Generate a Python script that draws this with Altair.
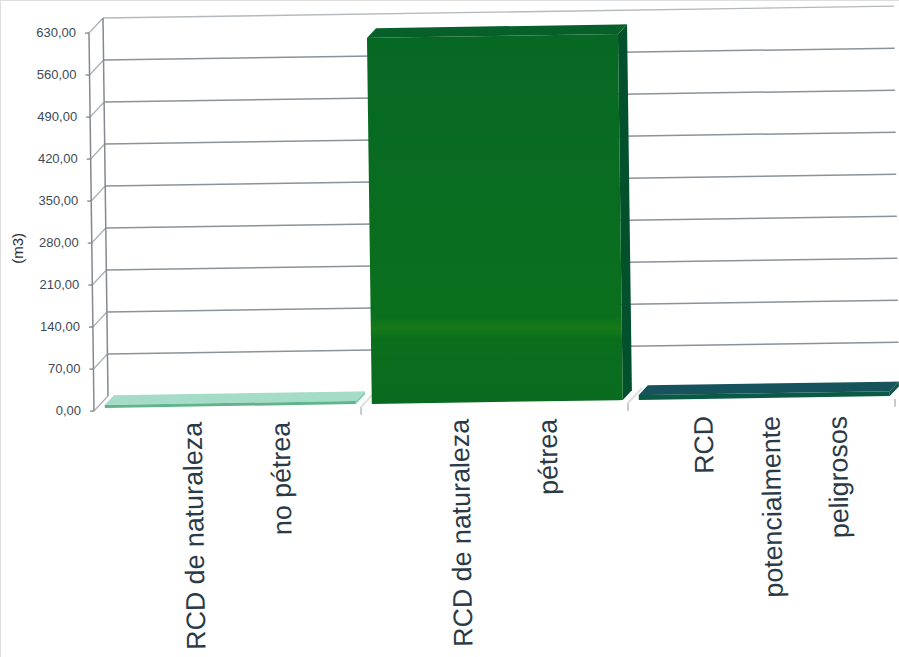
import altair as alt
import pandas as pd

# Chart values
category_lines = [
    ["RCD de naturaleza", "no pétrea"],
    ["RCD de naturaleza", "pétrea"],
    ["RCD", "potencialmente", "peligrosos"],
]
volumes = [5, 610, 8]
value_ticks = [0, 70, 140, 210, 280, 350, 420, 490, 560, 630]
value_title = "(m3)"

W, H = 899, 657
PX_PER_CAT = 267.0
PX_PER_UNIT = 0.6
LEFT_PX, BASE_PX = 94.0, 411.0

# Oblique projection: depth runs up and to the right, and the whole sheet leans slightly
DEPTH_X = 14.0 / PX_PER_CAT
DEPTH_Y = 15.0 / PX_PER_UNIT
TILT_Y = 4.0 / PX_PER_UNIT
TILT_X = 5.0 / 630.0 / PX_PER_CAT


def project(cat, value, depth=0.0):
    return (
        cat + depth * DEPTH_X - value * TILT_X,
        value + depth * DEPTH_Y + cat * TILT_Y,
    )


def segment_layer(segments, color, width):
    rows = []
    for i, (a, b) in enumerate(segments):
        for p in (a, b):
            x, y = project(*p)
            rows.append({"x": x, "y": y, "seg": i})
    return (
        alt.Chart(pd.DataFrame(rows))
        .mark_line(color=color, strokeWidth=width, clip=True)
        .encode(x=X, y=Y, detail="seg:N")
    )


def polygon_rows(vertices):
    # A convex polygon expressed as the band between its lower and upper edges
    pts = [project(*v) for v in vertices]
    rows = []
    for sx in sorted({p[0] for p in pts}):
        ys = []
        for (x0, y0), (x1, y1) in zip(pts, pts[1:] + pts[:1]):
            if min(x0, x1) <= sx <= max(x0, x1):
                if x0 == x1:
                    ys += [y0, y1]
                else:
                    ys.append(y0 + (y1 - y0) * (sx - x0) / (x1 - x0))
        rows.append({"x": sx, "y": min(ys), "y2": max(ys)})
    return rows


def face_layer(vertices, fill):
    return (
        alt.Chart(pd.DataFrame(polygon_rows(vertices)))
        .mark_area(color=fill, orient="vertical", clip=True, interpolate="linear")
        .encode(x=X, y=Y, y2="y2:Q")
    )


X = alt.X(
    "x:Q",
    axis=None,
    scale=alt.Scale(domain=[-LEFT_PX / PX_PER_CAT, (W - LEFT_PX) / PX_PER_CAT], nice=False, zero=False),
)
Y = alt.Y(
    "y:Q",
    axis=None,
    stack=None,
    scale=alt.Scale(domain=[(BASE_PX - H) / PX_PER_UNIT, BASE_PX / PX_PER_UNIT], nice=False, zero=False),
)

top_value = value_ticks[-1]
wall_end = (W - LEFT_PX - 14) / PX_PER_CAT
layers = []

# Back wall gridlines, with the top edge paler than the rest
layers.append(segment_layer([((0, top_value, 1), (wall_end, top_value, 1))], "#b4b9bd", 1.4))
layers.append(segment_layer([((0, v, 1), (wall_end, v, 1)) for v in value_ticks[1:-1]], "#8b9298", 1.5))

# Connectors between the front axis and the back wall
layers.append(segment_layer([((0, v, 0), (0, v, 1)) for v in value_ticks], "#a9aeb3", 1.2))

# Front axis, rear corner and ticks
layers.append(
    segment_layer(
        [((0, 0, 0), (0, top_value, 0)), ((0, 0, 1), (0, top_value, 1))],
        "#85898e",
        1.5,
    )
)
layers.append(segment_layer([((0, v, 0), (-4 / PX_PER_CAT, v, 0)) for v in value_ticks], "#85898e", 1.3))
layers.append(segment_layer([((c, 0, 0), (c, -13, 0)) for c in (1, 2, 3)], "#a9aeb3", 1.3))
layers.append(segment_layer([((c, 0, 0), (c, 0, 1)) for c in (1, 2)], "#d8e4e0", 2))

# Bars as three faces each: side, top and front
GAP = 0.03
D0, D1 = 0.2, 0.85
side_fills = ["#7fcdb0", "#03502c", "#0f5348"]
top_fills = ["#a4dcc8", "#07602a", "#17535c"]
front_fills = [
    "#5fb48c",
    alt.Gradient(
        gradient="linear",
        x1=0,
        x2=0,
        y1=1,
        y2=0,
        stops=[
            alt.GradientStop(offset=0.0, color="#086a1f"),
            alt.GradientStop(offset=0.175, color="#0a6f1d"),
            alt.GradientStop(offset=0.205, color="#167a18"),
            alt.GradientStop(offset=0.235, color="#0a701d"),
            alt.GradientStop(offset=1.0, color="#076825"),
        ],
    ),
    "#0b5a45",
]
for i, v in enumerate(volumes):
    c0, c1 = i + GAP, i + 1 - GAP
    layers.append(face_layer([(c1, 0, D0), (c1, 0, D1), (c1, v, D1), (c1, v, D0)], side_fills[i]))
    layers.append(face_layer([(c0, v, D0), (c1, v, D0), (c1, v, D1), (c0, v, D1)], top_fills[i]))
    layers.append(face_layer([(c0, 0, D0), (c1, 0, D0), (c1, v, D0), (c0, v, D0)], front_fills[i]))

# Value labels to the left of the axis
label_rows = []
for v in value_ticks:
    x, y = project(-13 / PX_PER_CAT, v)
    label_rows.append({"x": x, "y": y, "text": f"{v:.2f}".replace(".", ",")})
layers.append(
    alt.Chart(pd.DataFrame(label_rows))
    .mark_text(align="right", baseline="middle", font="Liberation Sans", fontSize=13, color="#3d4a55")
    .encode(x=X, y=Y, text="text:N")
)

# Vertical axis title
tx, ty = project(-74 / PX_PER_CAT, 273)
layers.append(
    alt.Chart(pd.DataFrame([{"x": tx, "y": ty, "text": value_title}]))
    .mark_text(angle=270, align="center", baseline="middle", font="Liberation Sans", fontSize=15, color="#27323c")
    .encode(x=X, y=Y, text="text:N")
)

# Category labels: each line of a name gets its own rotated column
LINE_STEP = {2: 88 / PX_PER_CAT, 3: 67 / PX_PER_CAT}
LABEL_TOP = -18
LABEL_RISE = 5
cat_rows = []
for i, lines in enumerate(category_lines):
    n = len(lines)
    for j, line in enumerate(lines):
        cx = i + 0.5 + 18 / PX_PER_CAT + (j - (n - 1) / 2) * LINE_STEP[n]
        cat_rows.append({"x": cx, "y": LABEL_TOP + i * LABEL_RISE, "text": line})
layers.append(
    alt.Chart(pd.DataFrame(cat_rows))
    .mark_text(angle=269, align="right", baseline="alphabetic", font="Liberation Sans", fontSize=26.8, color="#2b3a47")
    .encode(x=X, y=Y, text="text:N")
)

chart = (
    alt.layer(*layers)
    .properties(width=W, height=H, padding=0, autosize=alt.AutoSizeParams(type="none"))
    .configure_view(stroke=None)
    .configure(background="#ffffff")
)

chart.save("out.html", embed_options={"renderer": "svg", "actions": False})
